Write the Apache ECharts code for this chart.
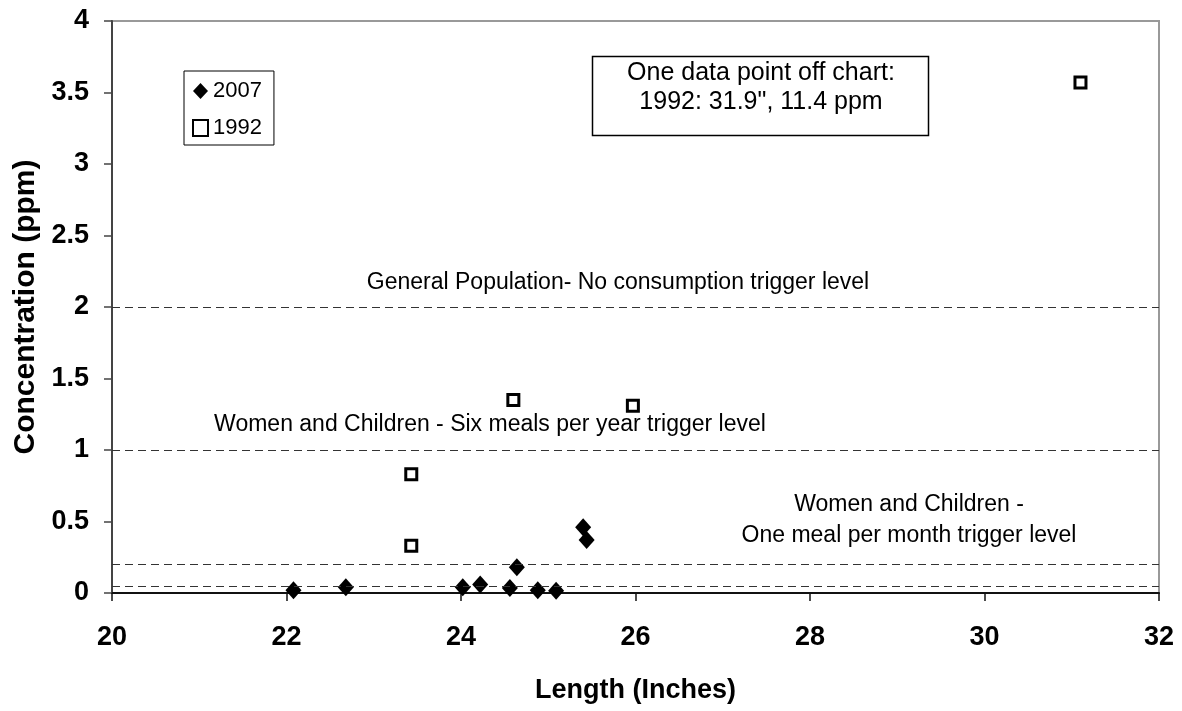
<!DOCTYPE html>
<html>
<head>
<meta charset="utf-8">
<title>Concentration vs Length</title>
<script src="https://cdn.jsdelivr.net/npm/echarts@6/dist/echarts.min.js"></script>
<style>
  html, body { margin: 0; padding: 0; background: #fff; }
  #main { width: 1182px; height: 711px; }
</style>
</head>
<body>
<div id="main"></div>
<script>
// 2007 sampling (black diamonds)
var len_2007 = [22.08, 22.68, 24.02, 24.22, 24.56, 24.64, 24.88, 25.09, 25.40, 25.44]
var conc_2007 = [0.02, 0.04, 0.04, 0.06, 0.035, 0.18, 0.02, 0.015, 0.46, 0.37]
// 1992 sampling (open squares)
var len_1992 = [23.43, 23.43, 24.60, 25.97, 31.10]
var conc_1992 = [0.33, 0.83, 1.35, 1.31, 3.57]
// trigger levels (dashed lines)
var trigger_levels = [0.05, 0.2, 1, 2]
var legend_names = ['2007', '1992']
var font = 'Liberation Sans, Arial, sans-serif'

function toPoints(xs, ys) {
    var pts = new Array()
    for (var i = 0; i < xs.length; i++) {
        pts.push([xs[i], ys[i]])
    }
    return pts
}

var levelLines = new Array()
for (var i = 0; i < trigger_levels.length; i++) {
    levelLines.push({ yAxis: trigger_levels[i] })
}

var myChart = echarts.init(document.getElementById('main'));
var option = {
    animation: false,
    grid: {
        left: 112,
        right: 23,
        top: 21,
        bottom: 118,
        show: true,
        borderColor: '#999',
        borderWidth: 2
    },
    legend: {
        orient: 'vertical',
        left: 184,
        top: 71,
        padding: [9, 12, 6, 8],
        itemGap: 15,
        itemWidth: 15,
        itemHeight: 16,
        itemTextGap: 5,
        borderColor: '#000',
        borderWidth: 1,
        backgroundColor: '#fff',
        textStyle: { fontFamily: font, fontSize: 22, color: '#000' },
        data: [
            { name: legend_names[0], icon: 'diamond' },
            { name: legend_names[1], icon: 'rect', itemStyle: { borderWidth: 2 } }
        ]
    },
    xAxis: {
        type: 'value',
        min: 20,
        max: 32,
        interval: 2,
        name: 'Length (Inches)',
        nameLocation: 'middle',
        nameGap: 84,
        nameTextStyle: { fontFamily: font, fontSize: 27, fontWeight: 'bold', color: '#000' },
        splitLine: { show: false },
        axisLine: { onZero: false, lineStyle: { color: '#111', width: 2 } },
        axisTick: { length: 8, lineStyle: { color: '#111', width: 1.5 } },
        axisLabel: { margin: 31, fontFamily: font, fontSize: 27, fontWeight: 'bold', color: '#000' }
    },
    yAxis: {
        type: 'value',
        min: 0,
        max: 4,
        interval: 0.5,
        name: 'Concentration (ppm)',
        nameLocation: 'middle',
        nameGap: 70,
        nameTextStyle: { fontFamily: font, fontSize: 30, fontWeight: 'bold', color: '#000' },
        splitLine: { show: false },
        axisLine: { show: true, lineStyle: { color: '#444', width: 2 } },
        axisTick: { show: true, length: 8, lineStyle: { color: '#444', width: 1.5 } },
        axisLabel: { margin: 23, fontFamily: font, fontSize: 27, fontWeight: 'bold', color: '#000' }
    },
    series: [
        {
            name: legend_names[0],
            type: 'scatter',
            symbol: 'diamond',
            symbolSize: [16, 18],
            itemStyle: { color: '#000', opacity: 1 },
            data: toPoints(len_2007, conc_2007),
            z: 3
        },
        {
            name: legend_names[1],
            type: 'scatter',
            symbol: 'rect',
            symbolSize: 11,
            itemStyle: { color: '#fff', borderColor: '#000', borderWidth: 3, opacity: 1 },
            data: toPoints(len_1992, conc_1992),
            markLine: {
                silent: true,
                symbol: 'none',
                label: { show: false },
                lineStyle: { color: '#333', width: 1, type: [8, 5] },
                data: levelLines
            },
            z: 3
        }
    ],
    graphic: [
        {
            type: 'text', z: 10,
            style: { text: 'General Population- No consumption trigger level', x: 618, y: 283,
                     align: 'center', verticalAlign: 'middle', font: '23px ' + font, fill: '#000' }
        },
        {
            type: 'text', z: 10,
            style: { text: 'Women and Children - Six meals per year trigger level', x: 490, y: 425,
                     align: 'center', verticalAlign: 'middle', font: '23px ' + font, fill: '#000' }
        },
        {
            type: 'text', z: 10,
            style: { text: 'Women and Children -', x: 909, y: 505,
                     align: 'center', verticalAlign: 'middle', font: '23px ' + font, fill: '#000' }
        },
        {
            type: 'text', z: 10,
            style: { text: 'One meal per month trigger level', x: 909, y: 536,
                     align: 'center', verticalAlign: 'middle', font: '23px ' + font, fill: '#000' }
        },
        // note box for the point that is off the chart
        {
            type: 'rect', z: 10,
            shape: { x: 592.5, y: 56.5, width: 336, height: 79 },
            style: { fill: '#fff', stroke: '#000', lineWidth: 1.5 }
        },
        {
            type: 'text', z: 11,
            style: { text: 'One data point off chart:', x: 761, y: 73,
                     align: 'center', verticalAlign: 'middle', font: '25px ' + font, fill: '#000' }
        },
        {
            type: 'text', z: 11,
            style: { text: '1992: 31.9", 11.4 ppm', x: 761, y: 102,
                     align: 'center', verticalAlign: 'middle', font: '25px ' + font, fill: '#000' }
        }
    ]
};
myChart.setOption(option);
</script>
</body>
</html>
